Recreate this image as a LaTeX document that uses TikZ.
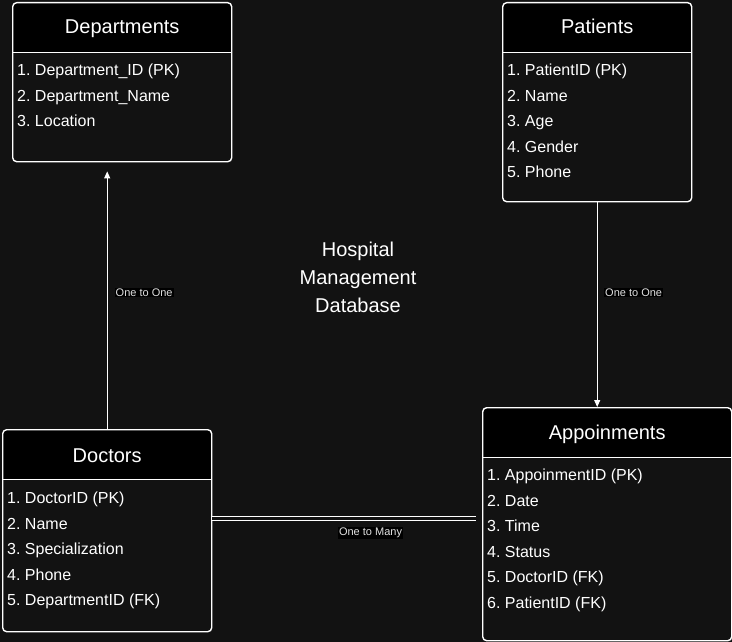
\documentclass[tikz,border=0pt]{standalone}
\usepackage{fontspec}
\setmainfont{Liberation Sans}
\usetikzlibrary{arrows.meta,positioning,calc}
\frenchspacing

\begin{document}
\begin{tikzpicture}[
  x=1pt, y=-1pt,
  table/.style={
    draw=white,
    line width=1.4pt,
    rounded corners=4pt,
    fill=bgdark,
    anchor=north west,
    inner sep=0pt,
    path picture={
      \fill[black, sharp corners] (path picture bounding box.north west)
        rectangle ([yshift=-50pt]path picture bounding box.north east);
      \draw[white, sharp corners, line width=1.4pt]
        ([yshift=-50pt]path picture bounding box.north west) --
        ([yshift=-50pt]path picture bounding box.north east);
    }
  },
  head/.style={font=\fontsize{20}{24}\selectfont, text=white, anchor=base},
  rows/.style={font=\fontsize{16}{25.5}\selectfont, text=white, align=left,
    anchor=north west, inner sep=0pt},
  dbtitle/.style={font=\fontsize{20}{28}\selectfont, text=white, align=center},
  rel/.style={-{Triangle[length=7pt,width=6pt]}, draw=white, line width=1pt},
  manyrel/.style={draw=white, line width=1pt, double=bgdark, double distance=3pt},
  lbl/.style={font=\fontsize{11}{13}\selectfont, text=white!88!black, fill=black,
    inner sep=1pt}
]

\definecolor{bgdark}{RGB}{18,18,18}

\fill[bgdark] (0,0) rectangle (732,642);
\useasboundingbox (0,0) rectangle (732,642);

% the four tables (drawio pixel coordinates, y going down)
\node[table, minimum width=219pt, minimum height=159pt] (dept) at (12,2) {};
\node[head] (depthead) at ([yshift=-32pt]dept.north) {Departments};
\node[rows] (deptrows) at ([shift={(5pt,-62pt)}]dept.north west)
  {1. Department\_ID (PK)\\2. Department\_Name\\3. Location};

\node[table, minimum width=189pt, minimum height=199pt] (pat) at (502,2) {};
\node[head] (pathead) at ([yshift=-32pt]pat.north) {Patients};
\node[rows] (patrows) at ([shift={(5pt,-62pt)}]pat.north west)
  {1. PatientID (PK)\\2. Name\\3. Age\\4. Gender\\5. Phone};

\node[table, minimum width=209pt, minimum height=202pt] (doc) at (2,429) {};
\node[head] (dochead) at ([yshift=-33pt]doc.north) {Doctors};
\node[rows] (docrows) at ([shift={(5pt,-63pt)}]doc.north west)
  {1. DoctorID (PK)\\2. Name\\3. Specialization\\4. Phone\\5. DepartmentID (FK)};

\node[table, minimum width=249pt, minimum height=233pt] (app) at (482,407) {};
\node[head] (apphead) at ([yshift=-32pt]app.north) {Appoinments};
\node[rows] (approws) at ([shift={(5pt,-62pt)}]app.north west)
  {1. AppoinmentID (PK)\\2. Date\\3. Time\\4. Status\\5. DoctorID (FK)\\6. PatientID (FK)};

\node[dbtitle] (dbname) at (358,277) {Hospital\\Management\\Database};

% relations
\coordinate (deptin) at ($(doc.north |- dept.south)+(0,9)$);
\draw[rel] (doc.north) -- node[lbl, pos=0.53, right=7pt] {One to One} (deptin);

\draw[rel] (pat.south) -- node[lbl, pos=0.44, right=6.5pt] {One to One}
  (pat.south |- app.north);

\coordinate (docout) at ([yshift=12pt]doc.east);
\coordinate (appin) at ($(app.west |- docout)+(-6,0)$);
\draw[manyrel] (docout) -- node[lbl, pos=0.6, below=8pt] {One to Many} (appin);

\end{tikzpicture}
\end{document}
